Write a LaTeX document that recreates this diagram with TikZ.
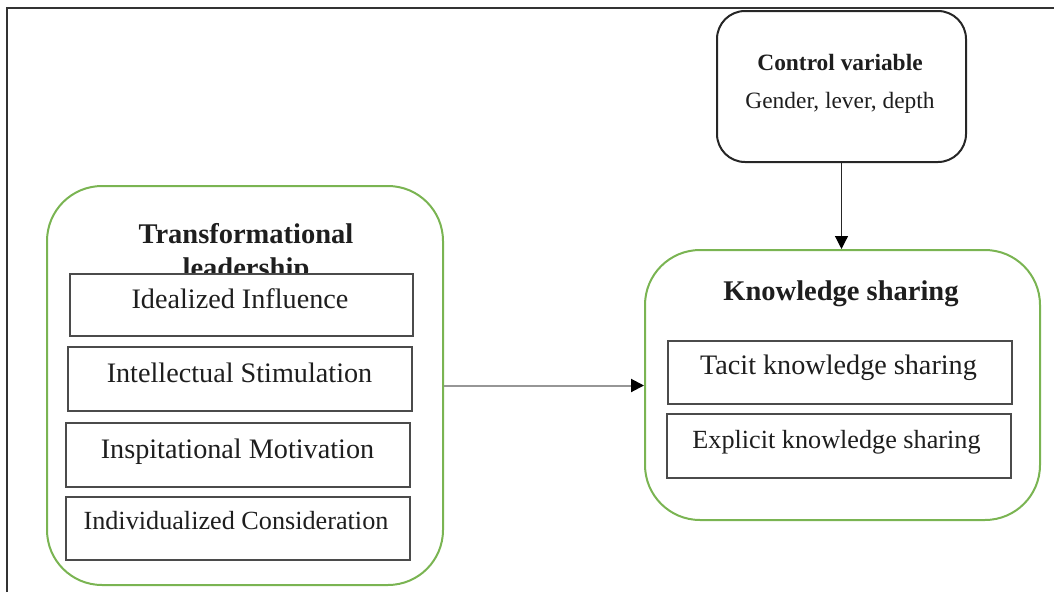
\documentclass[tikz,border=0pt]{standalone}
\usepackage{fontspec}
\setmainfont{Liberation Serif}
\usetikzlibrary{arrows.meta}
\definecolor{kgreen}{RGB}{122,180,82}
\definecolor{boxgray}{RGB}{75,75,75}
\definecolor{arrgray}{RGB}{150,150,150}
\definecolor{txtcol}{RGB}{30,30,30}
\begin{document}
\begin{tikzpicture}[x=1pt,y=-1pt,
  greenbox/.style={draw=kgreen,line width=2pt,rounded corners=55pt,inner sep=0pt},
  innerbox/.style={draw=boxgray,line width=1.3pt,fill=white,inner sep=0pt},
  ctrlbox/.style={draw=black!85,line width=2pt,rounded corners=28pt,inner sep=0pt},
  lbl/.style={anchor=base,inner sep=0pt,text=txtcol,font=\fontsize{28.2}{34}\selectfont},
  lblsmall/.style={anchor=base,inner sep=0pt,text=txtcol,font=\fontsize{26.2}{32}\selectfont},
  ttl/.style={anchor=base,inner sep=0pt,text=txtcol,font=\fontsize{28.5}{34}\selectfont\bfseries},
  ctrltxt/.style={anchor=base,inner sep=0pt,text=txtcol,font=\fontsize{23.4}{28}\selectfont},
  headtip/.style={-{Triangle[length=13pt,width=13pt,color=black]}}
]
\useasboundingbox (0,0) rectangle (1054,592);
% outer frame
\coordinate (fbl) at (7,592);
\coordinate (ftl) at (7,8);
\coordinate (ftr) at (1054,8);
\draw[line width=1.3pt,black!80] (fbl) -- (ftl) -- (ftr);

% left group
\node[greenbox,minimum width=396pt,minimum height=399pt] (lb) at (245,385.5) {};
\node[ttl] (tl1) at (246,243) {Transformational};
\node[ttl] (tl2) at (246,277) {leadership};
\node[innerbox,minimum width=343pt,minimum height=62pt] (b1) at (241.5,305) {};
\node[innerbox,minimum width=344pt,minimum height=64pt] (b2) at (240,379) {};
\node[innerbox,minimum width=344pt,minimum height=64pt] (b3) at (238,455) {};
\node[innerbox,minimum width=344pt,minimum height=63pt] (b4) at (238,528.5) {};
\node[lbl] (t1) at (240,308) {Idealized Influence};
\node[lbl] (t2) at (239.5,382) {Intellectual Stimulation};
\node[lbl] (t3) at (237.5,458) {Inspitational Motivation};
\node[lblsmall] (t4) at (236,529) {Individualized Consideration};

% control variable
\node[ctrlbox,minimum width=249pt,minimum height=151pt] (cv) at (841.5,86.5) {};
\node[ctrltxt,font=\fontsize{23.4}{28}\selectfont\bfseries] (cvt) at (840,70) {Control variable};
\node[ctrltxt] (cvs) at (840,108) {Gender, lever, depth};

% right group
\node[greenbox,minimum width=395pt,minimum height=270pt] (rb) at (842.5,385) {};
\node[ttl] (kst) at (841,300) {Knowledge sharing};
\node[innerbox,minimum width=344pt,minimum height=63pt] (r1) at (840,372.5) {};
\node[innerbox,minimum width=344pt,minimum height=64pt] (r2) at (839,446) {};
\node[lbl] (rt1) at (838.5,374) {Tacit knowledge sharing};
\node[lblsmall] (rt2) at (836.5,448) {Explicit knowledge sharing};

% connectors
\draw[draw=arrgray,line width=2pt,headtip] (lb.east) -- (lb.east -| rb.west);
\draw[black!85,line width=1.2pt,headtip] (cv.south) -- (cv.south |- rb.north);
\end{tikzpicture}
\end{document}
